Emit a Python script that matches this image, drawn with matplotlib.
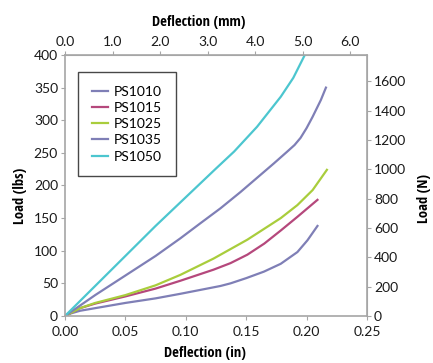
import matplotlib
matplotlib.use("Agg")
import matplotlib.pyplot as plt


# ----------------------------
# Data (deflection in inches, load in lbs)
# ----------------------------

ps1010_x = [0.0, 0.005, 0.0125, 0.025, 0.05, 0.075, 0.0955, 0.1287, 0.137, 0.150, 0.1647, 0.1786, 0.1924, 0.2007, 0.209]
ps1010_y = [0, 4, 8, 12, 20, 27, 34, 46, 50, 58, 68, 80, 98, 116, 138]

ps1015_x = [0.0, 0.0125, 0.025, 0.05, 0.075, 0.0955, 0.123, 0.137, 0.151, 0.165, 0.1786, 0.1924, 0.2007, 0.209]
ps1015_y = [0, 12, 19, 30, 42, 54, 71, 81, 94, 111, 131, 152, 165, 178]

ps1025_x = [0.0, 0.0125, 0.025, 0.05, 0.075, 0.0955, 0.123, 0.151, 0.1786, 0.1924, 0.205, 0.2168]
ps1025_y = [0, 12, 20, 32, 47, 63, 88, 117, 150, 170, 193, 224]

ps1035_x = [0.0, 0.025, 0.05, 0.075, 0.0955, 0.112, 0.1287, 0.1453, 0.173, 0.184, 0.190, 0.195, 0.200, 0.2049, 0.2118, 0.216]
ps1035_y = [0, 32, 62, 92, 119, 142, 165, 190, 234, 252, 262, 273, 288, 305, 331, 350]

ps1050_x = [0.0, 0.025, 0.05, 0.075, 0.10, 0.125, 0.14, 0.159, 0.1786, 0.189, 0.1985]
ps1050_y = [0, 46, 92, 138, 182, 226, 252, 290, 336, 365, 400]

labels = ["PS1010", "PS1015", "PS1025", "PS1035", "PS1050"]
colors = ["#7F7FB6", "#B5487C", "#A9CD3C", "#7F7FB6", "#4CC6CF"]

x_ticks = [0.00, 0.05, 0.10, 0.15, 0.20, 0.25]
y_ticks = [0, 50, 100, 150, 200, 250, 300, 350, 400]
mm_ticks = [0.0, 1.0, 2.0, 3.0, 4.0, 5.0, 6.0]
n_ticks = [0, 200, 400, 600, 800, 1000, 1200, 1400, 1600]


# ----------------------------
# Figure
# ----------------------------

plt.rcParams["font.family"] = ["Lato", "DejaVu Sans"]
plt.rcParams["font.size"] = 10

spine_col = "#A6A6A6"
label_font = dict(
    family=["Open Sans Condensed", "Roboto", "DejaVu Sans"],
    weight="bold",
    size=10.5
)

fig = plt.figure(figsize=(4.33, 3.63), dpi=100)
ax = fig.add_axes([0.150, 0.1295, 0.6976, 0.719])

series = [
    (ps1010_x, ps1010_y),
    (ps1015_x, ps1015_y),
    (ps1025_x, ps1025_y),
    (ps1035_x, ps1035_y),
    (ps1050_x, ps1050_y),
]

for (xs, ys), lab, col in zip(series, labels, colors):
    ax.plot(xs, ys, color=col, lw=1.6, label=lab)

ax.set_xlim(0, 0.25)
ax.set_ylim(0, 400)
ax.set_xticks(x_ticks)
ax.set_xticklabels([f"{v:.2f}" for v in x_ticks])
ax.set_yticks(y_ticks)

for sp in ax.spines.values():
    sp.set_color(spine_col)
    sp.set_linewidth(1.2)

ax.tick_params(direction="out", length=3, color=spine_col, width=0.8,
               labelsize=10, labelcolor="#1a1a1a", pad=2)
ax.tick_params(axis="x", pad=4)

ax.set_xlabel("Deflection (in)", labelpad=6, **label_font)
ax.xaxis.label.set_x(0.464)
ax.set_ylabel("Load (lbs)", labelpad=5, **label_font)
ax.yaxis.label.set_y(0.46)

# top axis: mm
top = ax.secondary_xaxis(
    "top",
    functions=(lambda v: v * 25.4, lambda v: v / 25.4)
)
top.set_xticks(mm_ticks)
top.set_xticklabels([f"{v:.1f}" for v in mm_ticks])
top.spines["top"].set_color(spine_col)
top.tick_params(direction="out", length=3, color=spine_col, width=0.8,
                labelsize=10, labelcolor="#1a1a1a", pad=2)
top.set_xlabel("Deflection (mm)", labelpad=7, **label_font)
top.xaxis.label.set_x(0.442)

# right axis: N
right = ax.secondary_yaxis(
    "right",
    functions=(lambda v: v * 4.448, lambda v: v / 4.448)
)
right.set_yticks(n_ticks)
right.spines["right"].set_color(spine_col)
right.tick_params(direction="out", length=3, color=spine_col, width=0.8,
                  labelsize=10, labelcolor="#1a1a1a", pad=2)
right.set_ylabel("Load (N)", labelpad=8, **label_font)
right.yaxis.label.set_y(0.45)

leg = ax.legend(
    loc="upper left",
    bbox_to_anchor=(0.043, 0.935),
    frameon=True,
    fancybox=False,
    edgecolor="#1a1a1a",
    fontsize=10,
    handlelength=1.15,
    handletextpad=0.45,
    labelspacing=0.3,
    borderpad=1.0,
    borderaxespad=0.0,
)
leg.get_frame().set_linewidth(1.0)

fig.savefig("out.png", dpi=100)
